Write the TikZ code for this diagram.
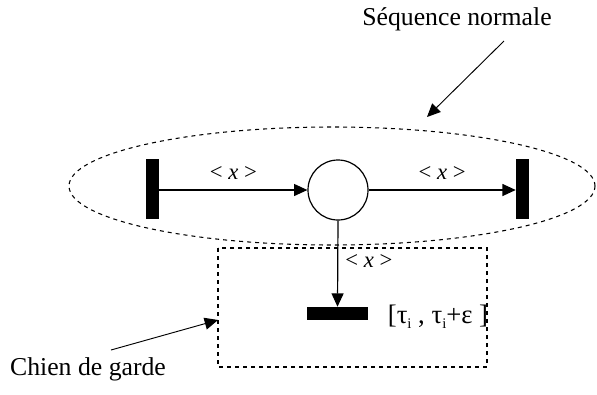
\documentclass[tikz,border=0pt]{standalone}
\usepackage{fontspec}
\setmainfont{Liberation Serif}
\usetikzlibrary{arrows.meta}

\newcommand{\subi}{\raisebox{-4pt}{\fontsize{11}{12}\selectfont i}}

\tikzset{
    trans/.style={fill=black, inner sep=0pt},
    place/.style={draw, circle, line width=0.9pt, minimum size=45pt, inner sep=0pt},
    arc/.style={-{Triangle[length=10pt,width=9pt]}, line width=0.9pt},
    weight/.style={font=\fontsize{17}{19}\selectfont},
    caption/.style={font=\fontsize{19.3}{22}\selectfont}
}

\begin{document}
\begin{tikzpicture}[x=0.75pt,y=-0.75pt]
    \useasboundingbox (0,0) rectangle (597,394);
    % sequence normale
    \draw[dashed, line width=0.8pt] (332,186) ellipse [x radius=263, y radius=59];
    \node[trans, minimum width=9.75pt, minimum height=45pt] (t1) at (152.5,189) {};
    \node[place] (p) at (338,190) {};
    \node[trans, minimum width=9.75pt, minimum height=45pt] (t2) at (522.5,189) {};
    \draw[arc] (t1.east |- p.west) -- (p.west) node[weight, midway, above=4pt] (w1) {< \textit{x} >};
    \draw[arc] (p.east) -- (p.east -| t2.west) node[weight, midway, above=4pt] (w2) {< \textit{x} >};
    % chien de garde
    \draw[dashed, line width=0.8pt] (218,248) rectangle (487,367);
    \node[trans, minimum width=45.75pt, minimum height=9.75pt] (t3) at (337.5,313.5) {};
    \draw[arc] (p.south) -- (t3.north) node[weight, pos=0.47, right=2pt] (w3) {< \textit{x} >};
    \node[font=\fontsize{20}{22}\selectfont] (tau) at (438,317) {[τ\subi\ , τ\subi+ε ]};
    % legendes
    \node[caption] (seq) at (457,19) {Séquence normale};
    \coordinate (s1) at (504,41);
    \coordinate (s2) at (427,117);
    \draw[arc, line width=0.7pt] (s1) -- (s2);
    \node[caption] (chien) at (88,369) {Chien de garde};
    \coordinate (c1) at (111,350);
    \coordinate (c2) at (218,320);
    \draw[arc, line width=0.7pt] (c1) -- (c2);
\end{tikzpicture}
\end{document}
